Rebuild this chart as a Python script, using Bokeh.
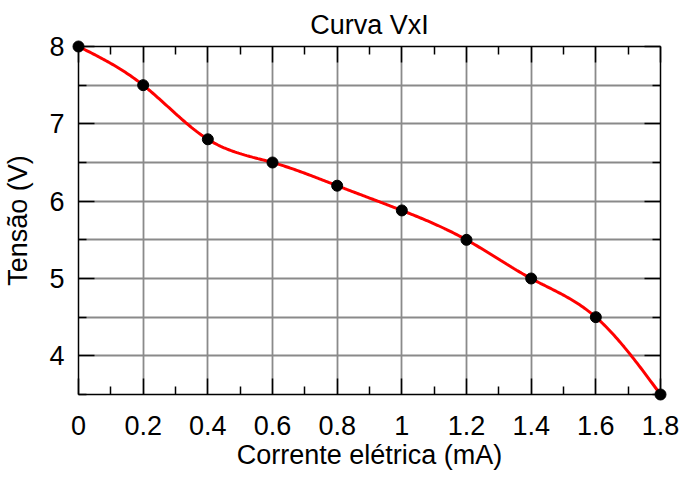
import numpy as np
from bokeh.plotting import figure
from bokeh.models import LinearAxis, FixedTicker, Range1d, ColumnDataSource
from bokeh.embed import file_html
from bokeh.resources import INLINE

# ---- data ----
current_mA = [0.0, 0.2, 0.4, 0.6, 0.8, 1.0, 1.2, 1.4, 1.6, 1.8]
voltage_V = [8.0, 7.5, 6.8, 6.5, 6.2, 5.88, 5.5, 5.0, 4.5, 3.5]

x_ticks = [0.0, 0.2, 0.4, 0.6, 0.8, 1.0, 1.2, 1.4, 1.6, 1.8]
x_tick_labels = ["0", "0.2", "0.4", "0.6", "0.8", "1", "1.2", "1.4", "1.6", "1.8"]
x_minor = [0.1, 0.3, 0.5, 0.7, 0.9, 1.1, 1.3, 1.5, 1.7]
y_ticks = [4, 5, 6, 7, 8]
y_tick_labels = ["4", "5", "6", "7", "8"]
y_minor = [3.5, 4.5, 5.5, 6.5, 7.5]

title_text = "Curva VxI"
x_label = "Corrente elétrica (mA)"
y_label = "Tensão (V)"


def natural_spline(xs, ys, per_seg=40):
    x = np.asarray(xs, float)
    y = np.asarray(ys, float)
    n = len(x)
    h = np.diff(x)
    A = np.zeros((n, n))
    b = np.zeros(n)
    A[0, 0] = 1
    A[-1, -1] = 1
    for i in range(1, n - 1):
        A[i, i - 1] = h[i - 1]
        A[i, i] = 2 * (h[i - 1] + h[i])
        A[i, i + 1] = h[i]
        b[i] = 6 * ((y[i + 1] - y[i]) / h[i] - (y[i] - y[i - 1]) / h[i - 1])
    M = np.linalg.solve(A, b)
    xo, yo = [], []
    for i in range(n - 1):
        t = np.linspace(x[i], x[i + 1], per_seg, endpoint=(i == n - 2))
        a = x[i + 1] - t
        c = t - x[i]
        s = (M[i] * a**3 + M[i + 1] * c**3) / (6 * h[i]) \
            + (y[i] / h[i] - M[i] * h[i] / 6) * a \
            + (y[i + 1] / h[i] - M[i + 1] * h[i] / 6) * c
        xo.extend(t)
        yo.extend(s)
    return xo, yo


FONT = "Liberation Sans"
FS = "27px"

p = figure(frame_width=582, frame_height=348, output_backend="svg", toolbar_location=None,
           x_range=Range1d(0, 1.8), y_range=Range1d(3.5, 8),
           min_border_left=71, min_border_right=19, min_border_top=39, min_border_bottom=74,
           x_axis_location=None, y_axis_location=None)
p.outline_line_color = None
p.background_fill_color = "white"
p.border_fill_color = "white"

p.title.text = title_text
p.title.text_font = FONT
p.title.text_font_size = FS
p.title.text_font_style = "normal"
p.title.text_color = "black"
p.title.align = "center"
p.title.standoff = 14

xt = FixedTicker(ticks=x_ticks, minor_ticks=x_minor)
yt = FixedTicker(ticks=y_ticks, minor_ticks=y_minor)


def style_axis(ax, labels):
    ax.axis_line_color = "black"
    ax.axis_line_width = 1.5
    ax.major_tick_in = 16
    ax.major_tick_out = 0
    ax.minor_tick_in = 8
    ax.minor_tick_out = 0
    ax.major_tick_line_color = "black"
    ax.minor_tick_line_color = "black"
    ax.major_tick_line_width = 1.5
    ax.minor_tick_line_width = 1.5
    if labels is None:
        ax.major_label_text_color = None
        ax.major_label_text_font_size = "1px"
        ax.major_label_standoff = 0
    else:
        ax.major_label_text_font = FONT
        ax.major_label_text_font_size = FS
        ax.major_label_text_color = "black"
        ax.axis_label_text_font = FONT
        ax.axis_label_text_font_size = FS
        ax.axis_label_text_font_style = "normal"
        ax.axis_label_text_color = "black"


bx = LinearAxis(ticker=xt, axis_label=x_label,
                major_label_overrides={v: s for v, s in zip(x_ticks, x_tick_labels)})
style_axis(bx, True)
bx.major_label_standoff = 21
bx.axis_label_standoff = 2
p.add_layout(bx, "below")

ly = LinearAxis(ticker=yt, axis_label=y_label,
                major_label_overrides={v: s for v, s in zip(y_ticks, y_tick_labels)})
style_axis(ly, True)
ly.major_label_standoff = 14
ly.axis_label_standoff = 13
p.add_layout(ly, "left")

tx = LinearAxis(ticker=xt)
style_axis(tx, None)
p.add_layout(tx, "above")

ry = LinearAxis(ticker=yt)
style_axis(ry, None)
p.add_layout(ry, "right")

p.xgrid.ticker = xt
p.ygrid.ticker = yt
for g in (p.xgrid, p.ygrid):
    g.grid_line_color = "#8a8a8a"
    g.grid_line_width = 1.8
p.ygrid.minor_grid_line_color = "#8a8a8a"
p.ygrid.minor_grid_line_width = 1.8

sx, sy = natural_spline(current_mA, voltage_V)
p.line(sx, sy, line_color="#ff0000", line_width=3)

src = ColumnDataSource(dict(x=current_mA, y=voltage_V))
pts = p.scatter("x", "y", source=src, size=11, fill_color="black", line_color="black")
pts.level = "overlay"

open("out.html", "w").write(file_html(p, INLINE))
